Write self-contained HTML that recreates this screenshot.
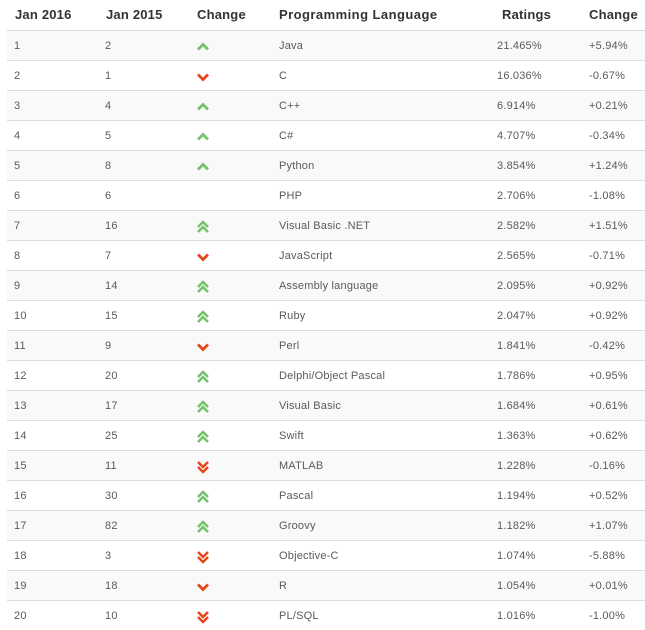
<!DOCTYPE html>
<html><head><meta charset="utf-8">
<style>
html,body{margin:0;padding:0;background:#fff;width:645px;height:630px;overflow:hidden;}
body{position:relative;font-family:"Liberation Sans",Arial,sans-serif;}
.h{position:absolute;top:0;height:30px;line-height:29px;font-size:13px;font-weight:bold;color:#333;white-space:nowrap;letter-spacing:0.2px;}
.r{position:absolute;left:7px;width:638px;height:29px;border-top:1px solid #dddddd;}
.r.o{background:#f9f9f9;}
.c{position:absolute;top:1px;height:29px;line-height:29px;font-size:11px;color:#5a5a5a;white-space:nowrap;letter-spacing:0.2px;}
.r svg{position:absolute;left:184px;top:8px;}
</style></head><body>
<div class="h" style="left:15px">Jan 2016</div>
<div class="h" style="left:106px">Jan 2015</div>
<div class="h" style="left:197px">Change</div>
<div class="h" style="left:279px;letter-spacing:0.45px">Programming Language</div>
<div class="h" style="left:502px">Ratings</div>
<div class="h" style="left:589px">Change</div>

<div class="r o" style="top:30px"><div class="c" style="left:7px">1</div><div class="c" style="left:98px">2</div><svg width="24" height="16"><polyline points="7,10.5 12,5.5 17,10.5" fill="none" stroke="#74c16c" stroke-width="2.8"/></svg><div class="c" style="left:272px">Java</div><div class="c" style="left:490px">21.465%</div><div class="c" style="left:582px">+5.94%</div></div>
<div class="r" style="top:60px"><div class="c" style="left:7px">2</div><div class="c" style="left:98px">1</div><svg width="24" height="16"><polyline points="7,5.5 12,10.5 17,5.5" fill="none" stroke="#e5461a" stroke-width="2.8"/></svg><div class="c" style="left:272px">C</div><div class="c" style="left:490px">16.036%</div><div class="c" style="left:582px">-0.67%</div></div>
<div class="r o" style="top:90px"><div class="c" style="left:7px">3</div><div class="c" style="left:98px">4</div><svg width="24" height="16"><polyline points="7,10.5 12,5.5 17,10.5" fill="none" stroke="#74c16c" stroke-width="2.8"/></svg><div class="c" style="left:272px">C++</div><div class="c" style="left:490px">6.914%</div><div class="c" style="left:582px">+0.21%</div></div>
<div class="r" style="top:120px"><div class="c" style="left:7px">4</div><div class="c" style="left:98px">5</div><svg width="24" height="16"><polyline points="7,10.5 12,5.5 17,10.5" fill="none" stroke="#74c16c" stroke-width="2.8"/></svg><div class="c" style="left:272px">C#</div><div class="c" style="left:490px">4.707%</div><div class="c" style="left:582px">-0.34%</div></div>
<div class="r o" style="top:150px"><div class="c" style="left:7px">5</div><div class="c" style="left:98px">8</div><svg width="24" height="16"><polyline points="7,10.5 12,5.5 17,10.5" fill="none" stroke="#74c16c" stroke-width="2.8"/></svg><div class="c" style="left:272px">Python</div><div class="c" style="left:490px">3.854%</div><div class="c" style="left:582px">+1.24%</div></div>
<div class="r" style="top:180px"><div class="c" style="left:7px">6</div><div class="c" style="left:98px">6</div><div class="c" style="left:272px">PHP</div><div class="c" style="left:490px">2.706%</div><div class="c" style="left:582px">-1.08%</div></div>
<div class="r o" style="top:210px"><div class="c" style="left:7px">7</div><div class="c" style="left:98px">16</div><svg width="24" height="16"><polyline points="7,8 12,3 17,8" fill="none" stroke="#74c16c" stroke-width="2.5"/><polyline points="7,13 12,8 17,13" fill="none" stroke="#74c16c" stroke-width="2.5"/></svg><div class="c" style="left:272px">Visual Basic .NET</div><div class="c" style="left:490px">2.582%</div><div class="c" style="left:582px">+1.51%</div></div>
<div class="r" style="top:240px"><div class="c" style="left:7px">8</div><div class="c" style="left:98px">7</div><svg width="24" height="16"><polyline points="7,5.5 12,10.5 17,5.5" fill="none" stroke="#e5461a" stroke-width="2.8"/></svg><div class="c" style="left:272px">JavaScript</div><div class="c" style="left:490px">2.565%</div><div class="c" style="left:582px">-0.71%</div></div>
<div class="r o" style="top:270px"><div class="c" style="left:7px">9</div><div class="c" style="left:98px">14</div><svg width="24" height="16"><polyline points="7,8 12,3 17,8" fill="none" stroke="#74c16c" stroke-width="2.5"/><polyline points="7,13 12,8 17,13" fill="none" stroke="#74c16c" stroke-width="2.5"/></svg><div class="c" style="left:272px">Assembly language</div><div class="c" style="left:490px">2.095%</div><div class="c" style="left:582px">+0.92%</div></div>
<div class="r" style="top:300px"><div class="c" style="left:7px">10</div><div class="c" style="left:98px">15</div><svg width="24" height="16"><polyline points="7,8 12,3 17,8" fill="none" stroke="#74c16c" stroke-width="2.5"/><polyline points="7,13 12,8 17,13" fill="none" stroke="#74c16c" stroke-width="2.5"/></svg><div class="c" style="left:272px">Ruby</div><div class="c" style="left:490px">2.047%</div><div class="c" style="left:582px">+0.92%</div></div>
<div class="r o" style="top:330px"><div class="c" style="left:7px">11</div><div class="c" style="left:98px">9</div><svg width="24" height="16"><polyline points="7,5.5 12,10.5 17,5.5" fill="none" stroke="#e5461a" stroke-width="2.8"/></svg><div class="c" style="left:272px">Perl</div><div class="c" style="left:490px">1.841%</div><div class="c" style="left:582px">-0.42%</div></div>
<div class="r" style="top:360px"><div class="c" style="left:7px">12</div><div class="c" style="left:98px">20</div><svg width="24" height="16"><polyline points="7,8 12,3 17,8" fill="none" stroke="#74c16c" stroke-width="2.5"/><polyline points="7,13 12,8 17,13" fill="none" stroke="#74c16c" stroke-width="2.5"/></svg><div class="c" style="left:272px">Delphi/Object Pascal</div><div class="c" style="left:490px">1.786%</div><div class="c" style="left:582px">+0.95%</div></div>
<div class="r o" style="top:390px"><div class="c" style="left:7px">13</div><div class="c" style="left:98px">17</div><svg width="24" height="16"><polyline points="7,8 12,3 17,8" fill="none" stroke="#74c16c" stroke-width="2.5"/><polyline points="7,13 12,8 17,13" fill="none" stroke="#74c16c" stroke-width="2.5"/></svg><div class="c" style="left:272px">Visual Basic</div><div class="c" style="left:490px">1.684%</div><div class="c" style="left:582px">+0.61%</div></div>
<div class="r" style="top:420px"><div class="c" style="left:7px">14</div><div class="c" style="left:98px">25</div><svg width="24" height="16"><polyline points="7,8 12,3 17,8" fill="none" stroke="#74c16c" stroke-width="2.5"/><polyline points="7,13 12,8 17,13" fill="none" stroke="#74c16c" stroke-width="2.5"/></svg><div class="c" style="left:272px">Swift</div><div class="c" style="left:490px">1.363%</div><div class="c" style="left:582px">+0.62%</div></div>
<div class="r o" style="top:450px"><div class="c" style="left:7px">15</div><div class="c" style="left:98px">11</div><svg width="24" height="16"><polyline points="7,3 12,8 17,3" fill="none" stroke="#e5461a" stroke-width="2.5"/><polyline points="7,8 12,13 17,8" fill="none" stroke="#e5461a" stroke-width="2.5"/></svg><div class="c" style="left:272px">MATLAB</div><div class="c" style="left:490px">1.228%</div><div class="c" style="left:582px">-0.16%</div></div>
<div class="r" style="top:480px"><div class="c" style="left:7px">16</div><div class="c" style="left:98px">30</div><svg width="24" height="16"><polyline points="7,8 12,3 17,8" fill="none" stroke="#74c16c" stroke-width="2.5"/><polyline points="7,13 12,8 17,13" fill="none" stroke="#74c16c" stroke-width="2.5"/></svg><div class="c" style="left:272px">Pascal</div><div class="c" style="left:490px">1.194%</div><div class="c" style="left:582px">+0.52%</div></div>
<div class="r o" style="top:510px"><div class="c" style="left:7px">17</div><div class="c" style="left:98px">82</div><svg width="24" height="16"><polyline points="7,8 12,3 17,8" fill="none" stroke="#74c16c" stroke-width="2.5"/><polyline points="7,13 12,8 17,13" fill="none" stroke="#74c16c" stroke-width="2.5"/></svg><div class="c" style="left:272px">Groovy</div><div class="c" style="left:490px">1.182%</div><div class="c" style="left:582px">+1.07%</div></div>
<div class="r" style="top:540px"><div class="c" style="left:7px">18</div><div class="c" style="left:98px">3</div><svg width="24" height="16"><polyline points="7,3 12,8 17,3" fill="none" stroke="#e5461a" stroke-width="2.5"/><polyline points="7,8 12,13 17,8" fill="none" stroke="#e5461a" stroke-width="2.5"/></svg><div class="c" style="left:272px">Objective-C</div><div class="c" style="left:490px">1.074%</div><div class="c" style="left:582px">-5.88%</div></div>
<div class="r o" style="top:570px"><div class="c" style="left:7px">19</div><div class="c" style="left:98px">18</div><svg width="24" height="16"><polyline points="7,5.5 12,10.5 17,5.5" fill="none" stroke="#e5461a" stroke-width="2.8"/></svg><div class="c" style="left:272px">R</div><div class="c" style="left:490px">1.054%</div><div class="c" style="left:582px">+0.01%</div></div>
<div class="r" style="top:600px"><div class="c" style="left:7px">20</div><div class="c" style="left:98px">10</div><svg width="24" height="16"><polyline points="7,3 12,8 17,3" fill="none" stroke="#e5461a" stroke-width="2.5"/><polyline points="7,8 12,13 17,8" fill="none" stroke="#e5461a" stroke-width="2.5"/></svg><div class="c" style="left:272px">PL/SQL</div><div class="c" style="left:490px">1.016%</div><div class="c" style="left:582px">-1.00%</div></div>
</body></html>
